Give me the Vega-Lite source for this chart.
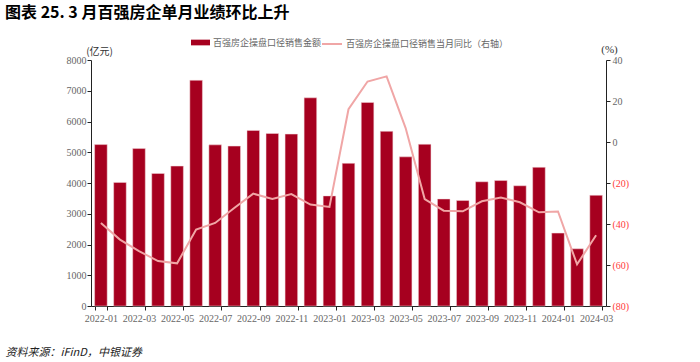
{
  "$schema": "https://vega.github.io/schema/vega-lite/v6.json",
  "width": 515,
  "height": 246,
  "autosize": {"type": "none"},
  "padding": {"left": 91, "top": 60, "right": 94, "bottom": 56},
  "background": "white",
  "title": {
    "text": "图表 25. 3 月百强房企单月业绩环比上升",
    "anchor": "start",
    "frame": "group",
    "dx": -86,
    "offset": 12,
    "font": "Noto Sans CJK SC",
    "fontSize": 16,
    "fontWeight": "bold",
    "color": "#000000"
  },
  "data": {
    "values": [
      {"month": "2022-01", "sales": 5250, "yoy": -39.5},
      {"month": "2022-02", "sales": 4020, "yoy": -47.6},
      {"month": "2022-03", "sales": 5120, "yoy": -53.2},
      {"month": "2022-04", "sales": 4310, "yoy": -58.1},
      {"month": "2022-05", "sales": 4550, "yoy": -59.2},
      {"month": "2022-06", "sales": 7340, "yoy": -42.7},
      {"month": "2022-07", "sales": 5240, "yoy": -39.5},
      {"month": "2022-08", "sales": 5200, "yoy": -32.2},
      {"month": "2022-09", "sales": 5710, "yoy": -25.2},
      {"month": "2022-10", "sales": 5610, "yoy": -27.8},
      {"month": "2022-11", "sales": 5590, "yoy": -25.4},
      {"month": "2022-12", "sales": 6770, "yoy": -30.5},
      {"month": "2023-01", "sales": 3580, "yoy": -31.7},
      {"month": "2023-02", "sales": 4640, "yoy": 16.0},
      {"month": "2023-03", "sales": 6620, "yoy": 29.5},
      {"month": "2023-04", "sales": 5680, "yoy": 32.0},
      {"month": "2023-05", "sales": 4850, "yoy": 6.8},
      {"month": "2023-06", "sales": 5260, "yoy": -27.8},
      {"month": "2023-07", "sales": 3480, "yoy": -33.5},
      {"month": "2023-08", "sales": 3430, "yoy": -33.8},
      {"month": "2023-09", "sales": 4040, "yoy": -28.9},
      {"month": "2023-10", "sales": 4080, "yoy": -27.1},
      {"month": "2023-11", "sales": 3910, "yoy": -29.4},
      {"month": "2023-12", "sales": 4510, "yoy": -34.3},
      {"month": "2024-01", "sales": 2370, "yoy": -33.9},
      {"month": "2024-02", "sales": 1860, "yoy": -59.7},
      {"month": "2024-03", "sales": 3600, "yoy": -45.5}
    ]
  },
  "encoding": {
    "x": {
      "field": "month",
      "type": "ordinal",
      "sort": null,
      "scale": {"paddingInner": 0.34, "paddingOuter": 0.19},
      "axis": {
        "values": ["2022-01", "2022-03", "2022-05", "2022-07", "2022-09", "2022-11", "2023-01", "2023-03", "2023-05", "2023-07", "2023-09", "2023-11", "2024-01", "2024-03"],
        "labelAngle": 0,
        "tickBand": "extent",
        "tickSize": 4,
        "labelPadding": 3,
        "labelFont": "Liberation Serif",
        "labelFontSize": 10,
        "labelColor": "#666666",
        "domainColor": "#222222",
        "tickColor": "#222222",
        "title": "资料来源：iFinD，中银证券",
        "titleFont": "Noto Sans CJK SC",
        "titleFontSize": 11,
        "titleFontStyle": "italic",
        "titleFontWeight": "normal",
        "titleColor": "#222222",
        "titleAnchor": "start",
        "titleAlign": "left",
        "titleBaseline": "middle",
        "titleX": -86,
        "titleY": 46
      }
    }
  },
  "layer": [
    {
      "mark": {"type": "bar", "stroke": "#f3d6da", "strokeWidth": 0.5},
      "encoding": {
        "y": {
          "field": "sales",
          "type": "quantitative",
          "scale": {"domain": [0, 8000], "nice": false},
          "axis": {
            "values": [0, 1000, 2000, 3000, 4000, 5000, 6000, 7000, 8000],
            "format": "d",
            "grid": false,
            "tickSize": 4,
            "labelPadding": 1,
            "labelFont": "Liberation Serif",
            "labelFontSize": 10,
            "labelColor": "#666666",
            "domainColor": "#222222",
            "tickColor": "#222222",
            "title": "(亿元)",
            "titleAngle": 0,
            "titleFont": "Noto Sans CJK SC",
            "titleFontSize": 10,
            "titleFontWeight": "normal",
            "titleColor": "#333333",
            "titleAlign": "center",
            "titleBaseline": "bottom",
            "titleX": 8,
            "titleY": -4
          }
        },
        "fill": {
          "datum": "百强房企操盘口径销售金额",
          "scale": {"domain": ["百强房企操盘口径销售金额"], "range": ["#A6001F"]},
          "legend": {
            "orient": "none",
            "legendX": 100,
            "legendY": -27,
            "direction": "horizontal",
            "title": null,
            "symbolType": "M-1,-0.3L1,-0.3L1,0.3L-1,0.3Z",
            "symbolSize": 361,
            "symbolStrokeWidth": 0,
            "labelFont": "Noto Sans CJK SC",
            "labelFontSize": 9,
            "labelColor": "#666666",
            "labelOffset": 3,
            "labelLimit": 400
          }
        }
      }
    },
    {
      "mark": {"type": "line", "strokeWidth": 2},
      "encoding": {
        "y": {
          "field": "yoy",
          "type": "quantitative",
          "scale": {"domain": [-80, 40], "nice": false},
          "axis": {
            "orient": "right",
            "values": [-80, -60, -40, -20, 0, 20, 40],
            "grid": false,
            "tickSize": 4,
            "labelPadding": 2,
            "labelFont": "Liberation Serif",
            "labelFontSize": 10,
            "labelExpr": "datum.value < 0 ? '(' + abs(datum.value) + ')' : datum.label",
            "labelColor": {"condition": {"test": "datum.value < 0", "value": "#FF3B3B"}, "value": "#666666"},
            "domainColor": "#222222",
            "tickColor": "#222222",
            "title": "(%)",
            "titleAngle": 0,
            "titleFont": "Liberation Serif",
            "titleFontSize": 11,
            "titleFontWeight": "normal",
            "titleColor": "#333333",
            "titleAlign": "center",
            "titleBaseline": "bottom",
            "titleX": 3,
            "titleY": -6
          }
        },
        "stroke": {
          "datum": "百强房企操盘口径销售当月同比（右轴）",
          "scale": {"domain": ["百强房企操盘口径销售当月同比（右轴）"], "range": ["#F0A6A6"]},
          "legend": {
            "orient": "none",
            "legendX": 230,
            "legendY": -27,
            "direction": "horizontal",
            "title": null,
            "symbolType": "stroke",
            "symbolSize": 400,
            "symbolStrokeWidth": 2,
            "labelFont": "Noto Sans CJK SC",
            "labelFontSize": 9,
            "labelColor": "#666666",
            "labelOffset": 3,
            "labelLimit": 400
          }
        }
      }
    }
  ],
  "resolve": {"scale": {"y": "independent"}},
  "config": {"view": {"stroke": null}}
}
